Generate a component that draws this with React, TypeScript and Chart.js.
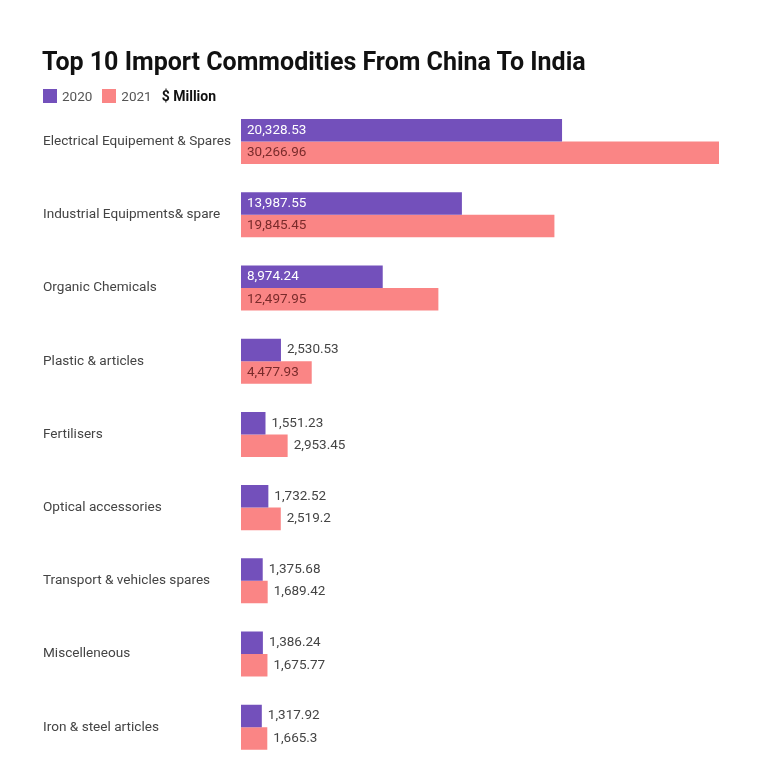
import React, { useEffect, useRef } from "react";
import { Chart, registerables } from "chart.js";

Chart.register(...registerables);

const categories = [
  "Electrical Equipement & Spares",
  "Industrial Equipments& spare",
  "Organic Chemicals",
  "Plastic & articles",
  "Fertilisers",
  "Optical accessories",
  "Transport & vehicles spares",
  "Miscelleneous",
  "Iron & steel articles",
];
const values2020 = [20328.53, 13987.55, 8974.24, 2530.53, 1551.23, 1732.52, 1375.68, 1386.24, 1317.92];
const values2021 = [30266.96, 19845.45, 12497.95, 4477.93, 2953.45, 2519.2, 1689.42, 1675.77, 1665.3];
const seriesNames = ["2020", "2021"];
const unitLabel = "$ Million";
const titleText = "Top 10 Import Commodities From China To India";

const PURPLE = "#7350BB";
const PINK = "#FA8585";
const FONT = "Roboto, 'Noto Sans', sans-serif";

const fmt = (v: number) => v.toLocaleString("en-US", { maximumFractionDigits: 2 });

const labelPlugin = {
  id: "barLabels",
  afterDatasetsDraw(chart: any) {
    const ctx = chart.ctx;
    ctx.save();
    ctx.font = `13.5px ${FONT}`;
    ctx.textBaseline = "middle";
    ctx.textAlign = "left";
    chart.data.datasets.forEach((ds: any, di: number) => {
      const meta = chart.getDatasetMeta(di);
      meta.data.forEach((bar: any, i: number) => {
        const v = ds.data[i];
        const txt = fmt(v);
        const w = bar.x - bar.base;
        if (w > 60) {
          ctx.fillStyle = di === 0 ? "#ffffff" : "#7a2b2b";
          ctx.fillText(txt, bar.base + 6, bar.y);
        } else {
          ctx.fillStyle = "#444444";
          ctx.fillText(txt, bar.x + 6, bar.y);
        }
      });
    });
    ctx.restore();
  },
};

export default function App() {
  const ref = useRef<HTMLCanvasElement | null>(null);
  useEffect(() => {
    if (!ref.current) return;
    const chart = new Chart(ref.current, {
      type: "bar",
      data: {
        labels: categories,
        datasets: [
          { label: seriesNames[0], data: values2020, backgroundColor: PURPLE, barPercentage: 1, categoryPercentage: 0.615 },
          { label: seriesNames[1], data: values2021, backgroundColor: PINK, barPercentage: 1, categoryPercentage: 0.615 },
        ],
      },
      options: {
        indexAxis: "y",
        animation: false,
        responsive: false,
        maintainAspectRatio: false,
        layout: { padding: { left: 43, top: 105, right: 49, bottom: 0 } },
        plugins: { legend: { display: false }, title: { display: false }, tooltip: { enabled: false } },
        scales: {
          x: { display: false, min: 0, max: 30266.96 },
          y: {
            grid: { display: false },
            border: { display: false },
            ticks: {
              crossAlign: "far",
              color: "#444444",
              font: { family: FONT, size: 13.6 },
              padding: 0,
            },
            afterFit(scale: any) {
              scale.width = 198;
            },
          },
        },
      },
      plugins: [labelPlugin],
    });
    return () => chart.destroy();
  }, []);

  const sq = (c: string) => ({ display: "inline-block", width: 14, height: 14, background: c, marginRight: 5 });

  return (
    <div style={{ position: "fixed", left: 0, top: 0, width: 768, height: 768, background: "#fff", fontFamily: FONT, overflow: "hidden" }}>
      <canvas ref={ref} width={768} height={772} style={{ position: "absolute", left: 0, top: 0 }} />
      <div style={{ position: "absolute", left: 42, top: 47, fontSize: 25, fontWeight: 700, color: "#111", whiteSpace: "nowrap" }}>
        {titleText}
      </div>
      <div style={{ position: "absolute", left: 43, top: 88, display: "flex", alignItems: "center", fontSize: 13.5, color: "#555" }}>
        <span style={sq(PURPLE)} />
        <span style={{ marginRight: 10 }}>{seriesNames[0]}</span>
        <span style={sq(PINK)} />
        <span style={{ marginRight: 10 }}>{seriesNames[1]}</span>
        <span style={{ fontWeight: 700, color: "#111", fontSize: 14 }}>{unitLabel}</span>
      </div>
    </div>
  );
}
